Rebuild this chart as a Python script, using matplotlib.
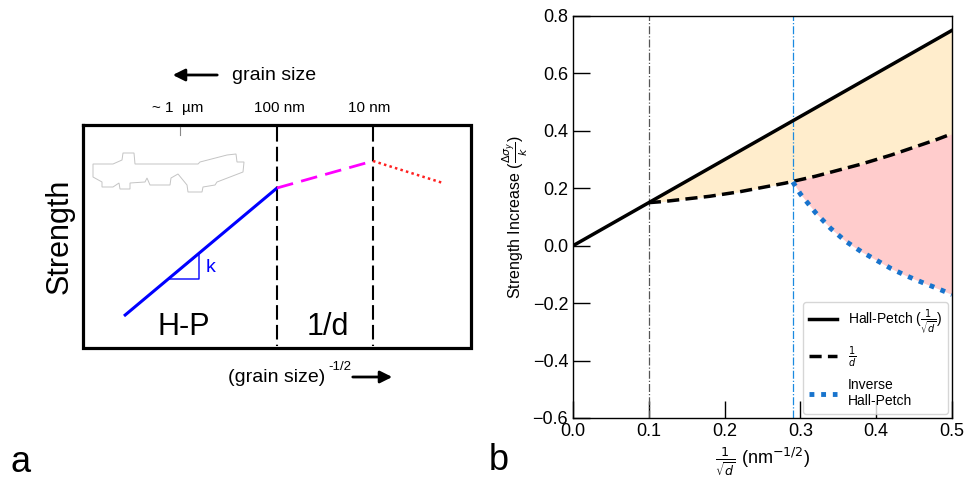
import numpy as np
import matplotlib
matplotlib.use("Agg")
import matplotlib.pyplot as plt
from matplotlib.patches import Polygon

plt.rcParams['font.family'] = ['Liberation Sans', 'DejaVu Sans']

# ---- panel b data ----
x_grid = [0.10, 0.12, 0.14, 0.16, 0.18, 0.20, 0.22, 0.24, 0.26, 0.28, 0.29,
          0.30, 0.32, 0.34, 0.36, 0.38, 0.40, 0.42, 0.44, 0.46, 0.48, 0.50]
hall_petch = [0.15, 0.18, 0.21, 0.24, 0.27, 0.30, 0.33, 0.36, 0.39, 0.42, 0.435,
              0.45, 0.48, 0.51, 0.54, 0.57, 0.60, 0.63, 0.66, 0.69, 0.72, 0.75]
one_over_d = [0.150, 0.154, 0.160, 0.166, 0.172, 0.180, 0.188, 0.198, 0.208, 0.218, 0.224,
              0.230, 0.242, 0.256, 0.270, 0.284, 0.300, 0.316, 0.334, 0.352, 0.370, 0.390]
inv_start = 10  # index of x = 0.29
inverse_hp = [0.222, 0.18, 0.115, 0.06, 0.015, -0.02, -0.05, -0.08, -0.105, -0.127, -0.148, -0.17]
hp_origin = (0.0, 0.0)
x_cut_hp = 0.1
x_cut_inv = 0.29

# ---- panel a schematic (pixel coords of the left half) ----
box_a = [83, 125, 471, 348]
hp_seg = ([124, 277], [316, 188])
d_seg = ([277, 373], [188, 161])
ihp_seg = ([373, 443], [161, 183])
div_x = [277, 373]
slope_tri = ([168, 199, 199, 168], [279, 279, 254, 279])
top_labels = ["~ 1  \u00b5m", "100 nm", "10 nm"]
top_label_x = [178, 279, 369]
blob_x = [93, 93, 102, 102, 113, 119, 120, 130, 130, 145, 147, 150, 170, 171, 178, 187, 188,
          202, 203, 215, 217, 243, 244, 237, 236, 227, 200, 198, 135, 134, 123, 122, 113]
blob_y = [164, 177, 182, 187, 187, 183, 189, 189, 183, 182, 178, 185, 185, 178, 174, 185, 192,
          192, 187, 185, 182, 172, 162, 162, 154, 155, 162, 164, 164, 153, 153, 160, 164]

W, H = 966, 480
fig = plt.figure(figsize=(W / 100, H / 100), dpi=100)

# ================= panel a =================
axa = fig.add_axes([0, 0, 483 / W, 1])
axa.set_xlim(0, 483)
axa.set_ylim(H, 0)
axa.axis('off')

x0, y0, x1, y1 = box_a
axa.plot([x0, x1, x1, x0, x0], [y0, y0, y1, y1, y0], color='k', lw=2.3, solid_joinstyle='miter')
for xv in div_x:
    axa.plot([xv, xv], [y0 + 2, y1 - 2], color='k', lw=1.5, linestyle=(0, (7, 2.5)))
axa.add_patch(Polygon(np.column_stack([blob_x, blob_y]), closed=True, fill=False,
                      edgecolor='#c4c4c4', lw=0.7))
axa.plot([180, 180], [y0 + 2, 135], color='#888888', lw=0.8)

axa.plot(*hp_seg, color='#0000ff', lw=2.2, solid_capstyle='butt')
axa.plot(*d_seg, color='#ff00ff', lw=2.0, linestyle=(0, (6, 3)))
axa.plot(*ihp_seg, color='#ff2020', lw=1.8, linestyle=(0, (1, 1.3)))
axa.plot(*slope_tri, color='#0000ff', lw=1.0)
axa.text(206, 268, 'k', color='#0000ff', fontsize=14, va='center', ha='left')

axa.text(184, 327, 'H-P', fontsize=22, ha='center', va='center')
axa.text(328, 327, '1/d', fontsize=22, ha='center', va='center')
axa.text(60, 236, 'Strength', fontsize=22, rotation=90, ha='center', va='center')
for lab, xv in zip(top_labels, top_label_x):
    axa.text(xv, 108, lab, fontsize=11, ha='center', va='center')

axa.annotate('', xy=(170, 75), xytext=(220, 75),
             arrowprops=dict(arrowstyle='-|>', lw=2, color='k', mutation_scale=18))
axa.text(232, 75, 'grain size', fontsize=14, ha='left', va='center')
axa.text(228, 377, '(grain size)', fontsize=14, ha='left', va='center')
axa.text(328, 367, '-1/2', fontsize=9.5, ha='left', va='center')
axa.annotate('', xy=(395, 377), xytext=(350, 377),
             arrowprops=dict(arrowstyle='-|>', lw=2, color='k', mutation_scale=18))
axa.text(21, 462, 'a', fontsize=26, ha='center', va='center')

# ================= panel b =================
L, R, T, B = 573, 952, 16, 418
axb = fig.add_axes([L / W, (H - B) / H, (R - L) / W, (B - T) / H])

xs = np.array(x_grid)
hp = np.array(hall_petch)
od = np.array(one_over_d)
ih = np.array(inverse_hp)

axb.fill_between(xs, od, hp, color='orange', alpha=0.2, lw=0)
axb.fill_between(xs[inv_start:], ih, od[inv_start:], color='red', alpha=0.2, lw=0)

axb.axvline(x_cut_hp, color='#555555', lw=0.9, linestyle='-.')
axb.axvline(x_cut_inv, color='#1a8ae0', lw=0.9, linestyle='-.')

axb.plot([hp_origin[0]] + x_grid, [hp_origin[1]] + hall_petch, color='k', lw=2.5,
         label='Hall-Petch ($\\frac{1}{\\sqrt{d}}$)')
axb.plot(xs, od, color='k', lw=2.5, linestyle=(0, (3.5, 1.8)), label='$\\frac{1}{d}$')
axb.plot(xs[inv_start:], ih, color='#1874cd', lw=3.5, linestyle=(0, (1, 1.4)),
         label='Inverse\nHall-Petch')

axb.set_xlim(0, 0.5)
axb.set_ylim(-0.6, 0.8)
axb.set_xticks([0.0, 0.1, 0.2, 0.3, 0.4, 0.5])
axb.set_yticks([-0.6, -0.4, -0.2, 0.0, 0.2, 0.4, 0.6, 0.8])
axb.xaxis.set_major_formatter(matplotlib.ticker.FormatStrFormatter('%.1f'))
axb.yaxis.set_major_formatter(matplotlib.ticker.FuncFormatter(
    lambda v, p: ('%.1f' % v).replace('-', '\u2212')))
axb.tick_params(direction='in', length=12, width=1, labelsize=13, top=False, right=False)
for s in axb.spines.values():
    s.set_linewidth(1.0)

axb.set_ylabel('Strength Increase ($\\frac{\\Delta\\sigma_y}{k}$)', fontsize=11.5, labelpad=2)
axb.set_xlabel('$\\frac{1}{\\sqrt{d}}$ (nm$^{-1/2}$)', fontsize=13)
axb.legend(loc='lower right', fontsize=10, frameon=True, borderaxespad=0.3,
           labelspacing=0.6)

fig.text(499 / W, 1 - 460 / H, 'b', fontsize=26, ha='center', va='center')

fig.savefig('out.png', dpi=100)
